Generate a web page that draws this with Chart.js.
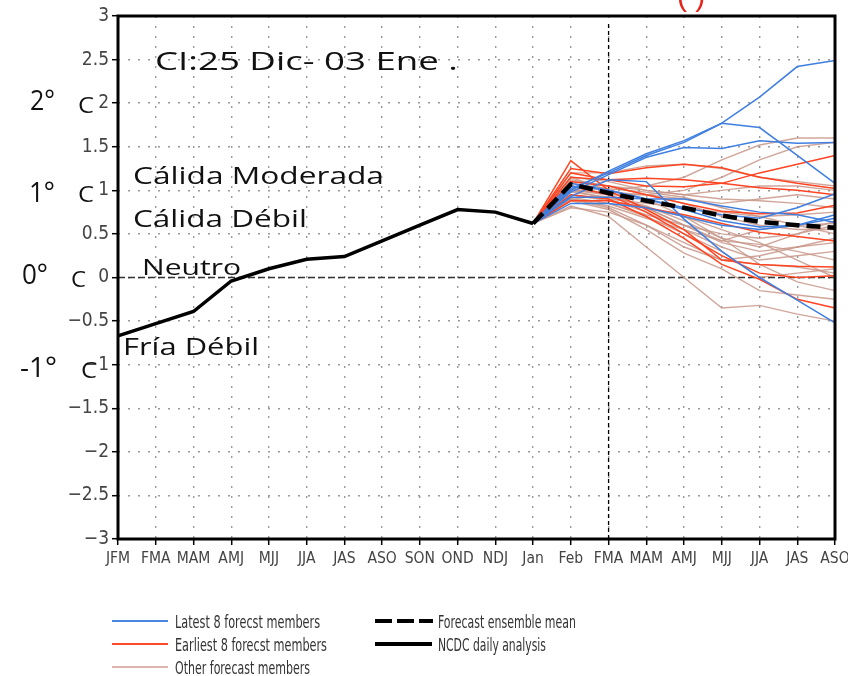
<!DOCTYPE html>
<html lang="es">
<head>
<meta charset="UTF-8">
<title>Pronóstico Niño 3.4 - miembros del conjunto</title>
<script src="https://cdn.jsdelivr.net/npm/chart.js@4.4.0/dist/chart.umd.min.js"></script>
<style>
  body { margin: 0; background: #fff; }
  #wrap { position: relative; width: 848px; height: 676px; overflow: hidden; }
  #chart { position: absolute; left: 0; top: 0; }
  .lbl { position: absolute; white-space: pre; line-height: 1; font-family: 'Open Sans', 'Noto Sans', sans-serif; color: #111; transform-origin: 0 50%; }
  .leg { position: absolute; white-space: pre; line-height: 1; font-family: 'Liberation Sans Narrow', 'DejaVu Sans Condensed', sans-serif; font-size: 18px; color: #333; transform-origin: 0 50%; }
  .sw { position: absolute; }
</style>
</head>
<body>
<div id="wrap">
  <canvas id="chart" width="848" height="676"></canvas>

  <!-- red fragment of the panel title, cut at the top -->
  <div class="lbl" style="left:677px; top:-21px; font:30px Arial, 'Liberation Sans', sans-serif; color:#e8231b;">( )</div>

  <!-- annotations -->
  <div class="lbl" data-w="303" style="left:155px; top:60px; font-size:26px;">CI:25 Dic- 03 Ene .</div>
  <div class="lbl" data-w="25" style="left:30px; top:99px; font-size:28px;">2°</div>
  <div class="lbl" data-w="16" style="left:78px; top:104px; font-size:22px;">C</div>
  <div class="lbl" data-w="251" style="left:133px; top:175px; font-size:23px;">Cálida Moderada</div>
  <div class="lbl" data-w="26" style="left:29px; top:191px; font-size:28px;">1°</div>
  <div class="lbl" data-w="16" style="left:78px; top:193px; font-size:22px;">C</div>
  <div class="lbl" data-w="174" style="left:133px; top:218px; font-size:23px;">Cálida Débil</div>
  <div class="lbl" data-w="99" style="left:142px; top:266px; font-size:22px;">Neutro</div>
  <div class="lbl" data-w="26" style="left:22px; top:273px; font-size:28px;">0°</div>
  <div class="lbl" data-w="15" style="left:71px; top:278px; font-size:22px;">C</div>
  <div class="lbl" data-w="136" style="left:123px; top:346px; font-size:23px;">Fría Débil</div>
  <div class="lbl" data-w="37" style="left:20px; top:366px; font-size:28px;">-1°</div>
  <div class="lbl" data-w="16" style="left:81px; top:369px; font-size:22px;">C</div>

  <!-- legend -->
  <div class="sw" style="left:112px; top:620px; width:56px; border-top:2px solid #4a86e0;"></div>
  <div class="sw" style="left:112px; top:643px; width:56px; border-top:2px solid #ff4a2a;"></div>
  <div class="sw" style="left:112px; top:666px; width:56px; border-top:2px solid #dcb6ad;"></div>
  <svg class="sw" style="left:375px; top:617px;" width="58" height="8"><line x1="0" y1="4" x2="58" y2="4" stroke="#000" stroke-width="4" stroke-dasharray="17 5"/></svg>
  <div class="sw" style="left:375px; top:642px; width:57px; border-top:4px solid #000;"></div>
  <div class="leg" data-w="145" style="left:175px; top:622px;">Latest 8 forecst members</div>
  <div class="leg" data-w="152" style="left:175px; top:645px;">Earliest 8 forecst members</div>
  <div class="leg" data-w="135" style="left:175px; top:668px;">Other forecast members</div>
  <div class="leg" data-w="138" style="left:438px; top:622px;">Forecast ensemble mean</div>
  <div class="leg" data-w="108" style="left:438px; top:645px;">NCDC daily analysis</div>
</div>

<script>
// season labels along the x axis
const seasons = ['JFM', 'FMA', 'MAM', 'AMJ', 'MJJ', 'JJA', 'JAS', 'ASO', 'SON', 'OND', 'NDJ',
                 'Jan', 'Feb', 'FMA', 'MAM', 'AMJ', 'MJJ', 'JJA', 'JAS', 'ASO'];

// observed anomaly (JFM ... Jan)
const ncdc = [-0.67, -0.53, -0.39, -0.04, 0.10, 0.21, 0.24, 0.42, 0.60, 0.78, 0.75, 0.62];

// forecasts start at Jan (index 11) and run to ASO
const forecastStart = 11;
const forecastLineIdx = 13;

const ensMean = [0.62, 1.07, 0.97, 0.88, 0.80, 0.71, 0.64, 0.60, 0.57];

const latestMembers = [
  [0.62, 1.00, 1.22, 1.42, 1.57, 1.77, 2.07, 2.42, 2.49],
  [0.62, 1.02, 1.20, 1.40, 1.55, 1.77, 1.72, 1.40, 1.08],
  [0.62, 0.98, 1.18, 1.38, 1.49, 1.48, 1.57, 1.54, 1.55],
  [0.62, 0.93, 1.12, 1.10, 0.67, 0.30, 0.00, -0.26, -0.52],
  [0.62, 1.05, 1.00, 0.90, 0.80, 0.72, 0.68, 0.80, 0.96],
  [0.62, 0.92, 0.92, 0.90, 0.90, 0.82, 0.75, 0.72, 0.63],
  [0.62, 0.85, 0.85, 0.80, 0.70, 0.60, 0.55, 0.60, 0.72],
  [0.62, 1.08, 1.00, 0.90, 0.78, 0.65, 0.58, 0.60, 0.68]
];

const earliestMembers = [
  [0.62, 1.20, 1.12, 1.05, 1.04, 1.08, 1.20, 1.30, 1.40],
  [0.62, 1.25, 1.19, 1.26, 1.30, 1.26, 1.15, 1.08, 1.02],
  [0.62, 1.15, 1.12, 1.14, 1.12, 1.08, 1.03, 1.00, 0.95],
  [0.62, 1.10, 1.05, 0.95, 0.85, 0.76, 0.73, 0.74, 0.83],
  [0.62, 1.34, 1.00, 0.78, 0.55, 0.20, 0.15, 0.13, 0.12],
  [0.62, 1.05, 0.95, 0.75, 0.50, 0.25, 0.05, 0.00, 0.02],
  [0.62, 0.95, 0.90, 0.70, 0.45, 0.15, -0.02, -0.25, -0.35],
  [0.62, 0.88, 0.88, 0.80, 0.72, 0.62, 0.52, 0.47, 0.42]
];

const otherMembers = [
  [0.62, 1.15, 1.00, 1.05, 1.15, 1.35, 1.52, 1.60, 1.60],
  [0.62, 1.20, 1.20, 1.28, 1.30, 1.25, 1.15, 1.10, 1.05],
  [0.62, 1.00, 0.95, 0.95, 1.00, 1.15, 1.35, 1.50, 1.55],
  [0.62, 1.10, 1.05, 1.00, 0.95, 0.90, 0.88, 0.85, 0.80],
  [0.62, 0.95, 0.90, 0.85, 0.80, 0.75, 0.70, 0.60, 0.50],
  [0.62, 1.05, 0.95, 0.80, 0.60, 0.40, 0.30, 0.35, 0.45],
  [0.62, 0.90, 0.80, 0.60, 0.35, 0.20, 0.25, 0.35, 0.40],
  [0.62, 0.82, 0.70, 0.35, 0.00, -0.35, -0.32, -0.42, -0.50],
  [0.62, 0.88, 0.78, 0.55, 0.28, 0.10, -0.15, -0.20, -0.25],
  [0.62, 0.90, 0.85, 0.70, 0.50, 0.30, 0.00, 0.05, 0.10],
  [0.62, 1.00, 0.90, 0.75, 0.55, 0.35, 0.20, 0.25, 0.30],
  [0.62, 1.05, 1.00, 0.90, 0.70, 0.45, 0.35, 0.50, 0.60],
  [0.62, 1.12, 1.05, 0.95, 0.85, 0.70, 0.60, 0.55, 0.55],
  [0.62, 1.00, 0.98, 0.95, 0.90, 0.85, 0.90, 0.95, 0.90],
  [0.62, 0.95, 0.88, 0.80, 0.70, 0.55, 0.40, 0.20, 0.00],
  [0.62, 0.98, 0.92, 0.82, 0.65, 0.45, 0.15, -0.05, -0.15],
  [0.62, 1.08, 1.02, 0.98, 0.92, 0.80, 0.70, 0.72, 0.75],
  [0.62, 0.92, 0.85, 0.72, 0.60, 0.50, 0.45, 0.50, 0.65],
  [0.62, 1.02, 0.95, 0.80, 0.60, 0.42, 0.38, 0.30, 0.20],
  [0.62, 1.15, 1.10, 1.00, 0.95, 1.00, 1.05, 1.05, 1.00],
  [0.62, 0.80, 0.75, 0.60, 0.40, 0.20, 0.15, 0.12, 0.05],
  [0.62, 0.90, 0.82, 0.68, 0.55, 0.42, 0.55, 0.60, 0.62]
];

function padForecast(vals) {
  return new Array(forecastStart).fill(null).concat(vals);
}

function memberSets(list, color, width) {
  return list.map(vals => ({
    data: padForecast(vals),
    borderColor: color,
    borderWidth: width,
    pointRadius: 0,
    tension: 0
  }));
}

// first dataset is drawn on top, so observed + mean go first
const datasets = [
  { data: ncdc, borderColor: '#000', borderWidth: 3.5, pointRadius: 0, tension: 0 },
  { data: padForecast(ensMean), borderColor: '#000', borderWidth: 4.5, borderDash: [14, 7], pointRadius: 0, tension: 0 }
].concat(
  memberSets(latestMembers, '#3f7fe0', 1.5),
  memberSets(earliestMembers, '#ff4422', 1.5),
  memberSets(otherMembers, 'rgba(200,150,138,0.85)', 1.4)
);

// zero line, forecast start line and the heavy frame
const framePlugin = {
  id: 'frame',
  beforeDatasetsDraw(chart) {
    const { ctx, chartArea: a, scales: { x, y } } = chart;
    ctx.save();
    const y0 = y.getPixelForValue(0);
    ctx.strokeStyle = '#333';
    ctx.lineWidth = 1.5;
    ctx.setLineDash([7, 3]);
    ctx.beginPath(); ctx.moveTo(a.left, y0); ctx.lineTo(a.right, y0); ctx.stroke();
    const xv = x.getPixelForValue(forecastLineIdx);
    ctx.strokeStyle = '#000';
    ctx.lineWidth = 1.3;
    ctx.setLineDash([4, 3]);
    ctx.beginPath(); ctx.moveTo(xv, a.top + 8); ctx.lineTo(xv, a.bottom); ctx.stroke();
    ctx.restore();
  },
  afterDraw(chart) {
    const { ctx, chartArea: a } = chart;
    ctx.save();
    ctx.strokeStyle = '#000';
    ctx.lineWidth = 3;
    ctx.strokeRect(a.left, a.top, a.right - a.left, a.bottom - a.top);
    ctx.restore();
  }
};

const tickFont = "'Liberation Sans Narrow', 'DejaVu Sans Condensed', sans-serif";

new Chart(document.getElementById('chart'), {
  type: 'line',
  data: { labels: seasons, datasets: datasets },
  plugins: [framePlugin],
  options: {
    responsive: false,
    animation: false,
    layout: { autoPadding: false, padding: { top: 16, right: 13, bottom: 107, left: 0 } },
    plugins: { legend: { display: false }, tooltip: { enabled: false } },
    scales: {
      x: {
        offset: false,
        afterFit(scale) {
          scale.height = 30;
          scale.paddingLeft = 0;
          scale.paddingRight = 0;
        },
        grid: { color: '#9a9a9a', lineWidth: 1.4, tickColor: '#000', tickLength: 6, tickWidth: 1.5 },
        border: { display: false, dash: [2, 8] },
        ticks: { autoSkip: false, maxRotation: 0, padding: 5, color: '#444', font: { family: tickFont, size: 15.5 } }
      },
      y: {
        min: -3,
        max: 3,
        afterFit(scale) {
          scale.width = 118;
          scale.paddingTop = 0;
          scale.paddingBottom = 0;
        },
        grid: { color: '#9a9a9a', lineWidth: 1.4, tickColor: '#000', tickLength: 6, tickWidth: 1.5 },
        border: { display: false, dash: [2, 8] },
        ticks: {
          stepSize: 0.5,
          maxTicksLimit: 20,
          padding: 3,
          color: '#444',
          font: { family: tickFont, size: 19 },
          callback: v => String(v).replace('-', '\u2212')
        }
      }
    }
  }
});

// stretch the overlay texts to the widths seen in the reference
document.querySelectorAll('[data-w]').forEach(el => {
  const w = el.getBoundingClientRect().width;
  const s = Number(el.dataset.w) / w;
  el.style.transform = 'translateY(-50%) scaleX(' + s.toFixed(3) + ')';
});
</script>
</body>
</html>
